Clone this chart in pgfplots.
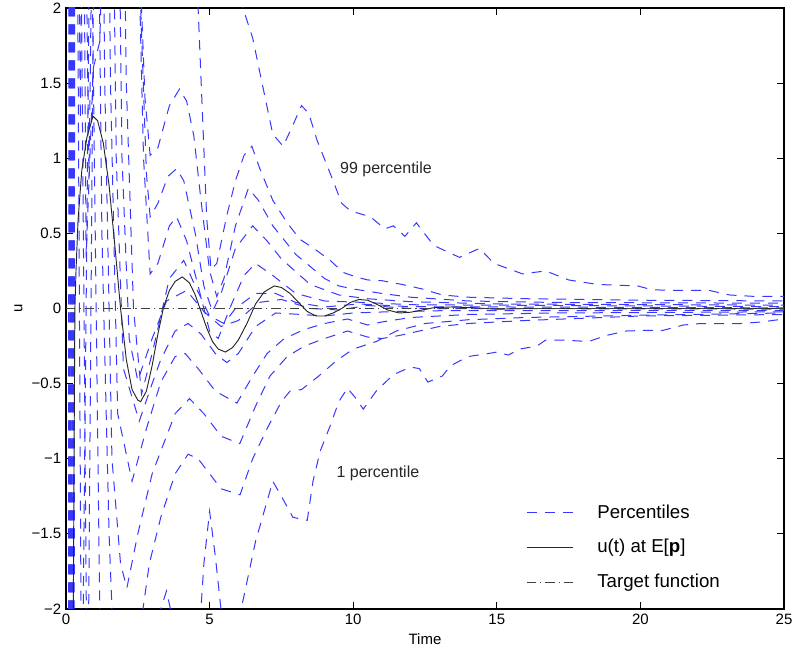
\documentclass[border=0pt]{standalone}
\usepackage{fontspec}
\setmainfont{Liberation Sans}
\usepackage{pgfplots}
\pgfplotsset{compat=1.18}
\definecolor{pblue}{RGB}{55,55,255}
\begin{document}
\begin{tikzpicture}
\begin{axis}[name=ax, scale only axis, width=538.5pt, height=450.75pt,
  xmin=0, xmax=25, ymin=-2, ymax=2,
  xtick={0,5,10,15,20,25}, xticklabels={0,5,10,15,20,25},
  ytick={-2,-1.5,-1,-0.5,0,0.5,1,1.5,2},
  yticklabels={−2,−1.5,−1,−0.5,0,0.5,1,1.5,2},
  tick align=inside, xtick pos=both, ytick pos=both,
  major tick length=5pt, tick style={black, line width=0.6pt},
  tick label style={font=\fontsize{11.25}{13}\selectfont},
  label style={font=\fontsize{11.25}{13}\selectfont},
  xlabel={Time}, ylabel={u},
  axis line style={line width=1pt},
  pct/.style={color=pblue, line width=0.75pt, dash pattern=on 7.5pt off 6pt},
  legend image code/.code={\draw[#1] (0pt,0pt) -- (35pt,0pt); \path[draw=none] (0pt,0pt) -- (51pt,0pt);},
  legend cell align=left,
  legend style={draw=none, fill=none, at={(0.635,0.183)}, anchor=north west,
    font=\fontsize{14}{16}\selectfont, row sep=10.5pt},
]
% 99
\addplot[pct] coordinates {(0.07,-8)(0.12,8)(5.0,2.9)(5.8,2.35)(6.16,2.0)(6.5,1.8)(6.86,1.47)(7.2,1.16)(7.56,1.08)(7.9,1.22)(8.2,1.35)(8.45,1.3)(8.74,1.12)(9.3,0.85)(9.6,0.70)(9.9,0.65)(10.6,0.61)(11.1,0.53)(11.4,0.55)(11.8,0.48)(12.2,0.57)(12.8,0.42)(13.7,0.34)(14.4,0.40)(14.9,0.30)(15.9,0.23)(16.7,0.25)(17.5,0.19)(18.5,0.16)(19.9,0.15)(20.4,0.125)(21.1,0.12)(22.4,0.12)(23.1,0.09)(24,0.08)(25,0.08)};
\addlegendentry{Percentiles}
% 95
\addplot[pct, forget plot] coordinates {(0.088,-8)(0.138,8)(4.4,3.2)(4.6,2.0)(4.75,1.3)(4.9,0.6)(5.05,0.26)(5.25,0.3)(5.6,0.62)(5.9,0.85)(6.2,1.02)(6.47,1.08)(6.75,0.93)(7.2,0.72)(7.7,0.57)(8.15,0.46)(8.7,0.39)(9.2,0.32)(9.65,0.24)(10.1,0.21)(10.5,0.19)(11,0.185)(11.7,0.16)(12.4,0.13)(13.1,0.09)(14,0.075)(15,0.07)(16,0.065)(18,0.06)(20,0.055)(25,0.05)};
% 90
\addplot[pct, forget plot] coordinates {(0.106,-8)(0.156,8)(0.38,4)(0.5,1.26)(0.62,4)(0.85,8)(2.3,4)(2.55,2.4)(2.75,1.4)(2.93,1.02)(3.2,1.07)(3.6,1.35)(3.95,1.46)(4.2,1.38)(4.45,1.15)(4.7,0.72)(5.0,0.25)(5.25,0.08)(5.5,0.2)(5.9,0.55)(6.35,0.80)(6.7,0.72)(7.2,0.55)(8,0.36)(9,0.2)(9.5,0.15)(10,0.13)(11,0.1)(12,0.075)(14,0.05)(17,0.04)(25,0.035)};
% 80
\addplot[pct, forget plot] coordinates {(0.124,-8)(0.174,8)(0.6,4)(0.8,0.86)(1.0,4)(1.3,8)(2.35,4)(2.6,2.0)(2.8,0.9)(2.93,0.61)(3.2,0.7)(3.55,0.88)(3.85,0.93)(4.1,0.85)(4.5,0.5)(4.8,0.15)(5.1,-0.02)(5.4,0.1)(5.9,0.4)(6.5,0.55)(7.0,0.45)(7.5,0.33)(8.5,0.16)(9.5,0.09)(10.5,0.065)(12,0.045)(15,0.03)(25,0.022)};
% 70
\addplot[pct, forget plot] coordinates {(0.142,-8)(0.192,8)(0.55,5)(0.7,0.34)(0.95,1.6)(1.18,1.78)(1.4,3.5)(2.2,5)(2.45,3)(2.7,1.0)(2.93,0.23)(3.2,0.3)(3.6,0.55)(3.85,0.61)(4.2,0.45)(4.6,0.15)(5.0,-0.15)(5.3,-0.2)(5.7,0.0)(6.2,0.22)(6.6,0.30)(7.2,0.22)(8,0.1)(9,0.05)(10.4,0.04)(12,0.025)(25,0.012)};
% 60
\addplot[pct, forget plot] coordinates {(0.16,-8)(0.21,8)(1.8,6)(2.1,1.5)(2.35,0.0)(2.63,-0.57)(3.0,-0.3)(3.6,0.2)(4.1,0.32)(4.5,0.15)(5.0,-0.05)(5.5,-0.1)(5.9,0.0)(6.6,0.1)(7.3,0.1)(8,0.04)(9,0.01)(10.2,0.03)(12,0.012)(25,0.004)};
% 50
\addplot[pct, forget plot] coordinates {(0.178,-8)(0.228,8)(0.5,3)(0.75,-3)(0.95,2)(1.2,6)(1.7,5)(1.95,1.0)(2.2,-0.2)(2.5,-0.48)(3.0,-0.2)(3.5,0.05)(4.2,0.12)(4.8,-0.02)(5.4,-0.12)(6.0,-0.08)(6.7,0.04)(7.5,0.06)(8.5,0.0)(9.5,-0.01)(10.5,0.02)(12,0.0)(25,-0.004)};
% 40
\addplot[pct, forget plot] coordinates {(0.196,-8)(0.246,8)(0.55,-3)(0.85,3)(1.1,6)(1.5,5)(1.75,1.0)(2.0,-0.4)(2.55,-0.75)(3.0,-0.5)(3.3,-0.34)(3.8,-0.15)(4.25,-0.1)(4.7,-0.17)(5.2,-0.3)(5.6,-0.36)(6.0,-0.3)(6.6,-0.12)(7.3,-0.03)(8.2,-0.04)(9,-0.05)(10,-0.03)(11.5,-0.02)(13,-0.015)(25,-0.012)};
% 30
\addplot[pct, forget plot] coordinates {(0.214,-8)(0.264,8)(1.3,6)(1.55,1.5)(1.8,-0.7)(2.3,-1.15)(2.8,-0.8)(3.3,-0.49)(3.8,-0.32)(4.15,-0.3)(4.6,-0.4)(5.2,-0.55)(5.95,-0.63)(6.5,-0.45)(7.0,-0.3)(7.6,-0.2)(8.3,-0.14)(9,-0.1)(9.8,-0.07)(10.5,-0.11)(11,-0.09)(12,-0.06)(14,-0.04)(17,-0.03)(25,-0.022)};
% 20
\addplot[pct, forget plot] coordinates {(0.232,-8)(0.282,8)(1.1,6)(1.35,1.5)(1.6,-1.0)(1.9,-1.7)(2.12,-1.86)(2.5,-1.5)(3.0,-1.1)(3.3,-0.95)(3.8,-0.7)(4.3,-0.6)(4.8,-0.7)(5.4,-0.85)(6.05,-0.9)(6.6,-0.65)(7.1,-0.45)(7.7,-0.32)(8.3,-0.25)(9,-0.2)(9.8,-0.15)(10.5,-0.19)(11,-0.2)(11.6,-0.18)(12.3,-0.15)(13,-0.12)(14,-0.1)(15,-0.09)(16,-0.08)(18,-0.065)(20,-0.05)(25,-0.04)};
% 10
\addplot[pct, forget plot] coordinates {(0.25,-8)(0.3,8)(0.95,6)(1.25,0.5)(1.5,-1.5)(1.8,-3)(2.4,-3.5)(2.68,-2.0)(2.9,-1.7)(3.3,-1.39)(3.8,-1.1)(4.25,-0.97)(4.6,-1.0)(5.0,-1.1)(5.4,-1.2)(6.06,-1.24)(6.5,-1.0)(7.0,-0.8)(7.5,-0.62)(7.8,-0.55)(8.2,-0.54)(8.8,-0.45)(9.4,-0.35)(10,-0.27)(10.8,-0.22)(11.5,-0.15)(12.5,-0.1)(14,-0.075)(16,-0.06)(20,-0.045)(25,-0.03)};
% 1
\addplot[pct, forget plot] coordinates {(0.268,-8)(0.318,8)(0.8,4)(1.05,0)(1.3,-4)(2.8,-5)(3.3,-2.0)(3.5,-1.88)(3.75,-2.1)(4.2,-3.5)(4.6,-2.3)(4.8,-1.7)(5.0,-1.35)(5.2,-1.65)(5.45,-2.1)(5.8,-2.6)(6.1,-2.0)(6.6,-1.55)(7.2,-1.15)(7.5,-1.25)(7.9,-1.39)(8.4,-1.41)(8.6,-1.15)(8.85,-0.95)(9.2,-0.78)(9.5,-0.62)(9.8,-0.53)(10.1,-0.6)(10.35,-0.67)(10.8,-0.55)(11.4,-0.44)(12,-0.39)(12.3,-0.4)(12.6,-0.49)(13.1,-0.45)(13.4,-0.38)(14,-0.32)(14.7,-0.3)(15,-0.29)(15.4,-0.31)(15.8,-0.27)(16.4,-0.25)(16.7,-0.21)(17.3,-0.21)(18.2,-0.22)(18.8,-0.18)(19.5,-0.15)(20.3,-0.145)(20.8,-0.145)(21.5,-0.11)(22.1,-0.10)(23.5,-0.1)(24.2,-0.09)(25,-0.07)};
% u(t)
\addplot[black!85, line width=0.7pt] coordinates {(0.2,-6)(0.25,-2.2)(0.28,-1.0)(0.31,0.0)(0.35,0.26)(0.42,0.59)(0.55,0.92)(0.73,1.14)(0.94,1.28)(1.1,1.25)(1.3,1.1)(1.5,0.82)(1.7,0.42)(1.9,0.0)(2.1,-0.34)(2.3,-0.54)(2.5,-0.61)(2.6,-0.62)(2.8,-0.55)(3.0,-0.38)(3.2,-0.17)(3.4,0.01)(3.6,0.12)(3.8,0.18)(4.05,0.21)(4.3,0.17)(4.5,0.09)(4.7,-0.02)(4.9,-0.13)(5.1,-0.22)(5.3,-0.27)(5.55,-0.29)(5.8,-0.26)(6.0,-0.21)(6.3,-0.1)(6.6,0.03)(6.9,0.11)(7.25,0.15)(7.5,0.14)(7.8,0.1)(8.1,0.04)(8.4,-0.02)(8.7,-0.05)(9.0,-0.05)(9.3,-0.03)(9.6,0.0)(9.9,0.04)(10.2,0.06)(10.5,0.055)(10.8,0.03)(11.2,-0.01)(11.6,-0.03)(12.0,-0.025)(12.4,-0.01)(12.8,0.005)(13.4,0.01)(14.2,0.005)(15,-0.005)(16,0.0)(18,0.0)(25,0.0)};
\addlegendentry{u(t) at E[\textbf{p}]}
% target
\addplot[black!75, line width=0.6pt, dash pattern=on 7pt off 3pt on 1pt off 3pt] coordinates {(0,0)(25,0)};
\addlegendentry{Target function}
\node[font=\fontsize{12}{14}\selectfont, text=black!85] at (axis cs:11.14,0.924) {99 percentile};
\node[font=\fontsize{12}{14}\selectfont, text=black!85] at (axis cs:10.86,-1.095) {1 percentile};
\end{axis}
\pgfresetboundingbox
\path ([shift={(-49.5pt,-39.75pt)}]ax.south west) rectangle ([shift={(6.75pt,6pt)}]ax.north east);
\end{tikzpicture}
\end{document}
